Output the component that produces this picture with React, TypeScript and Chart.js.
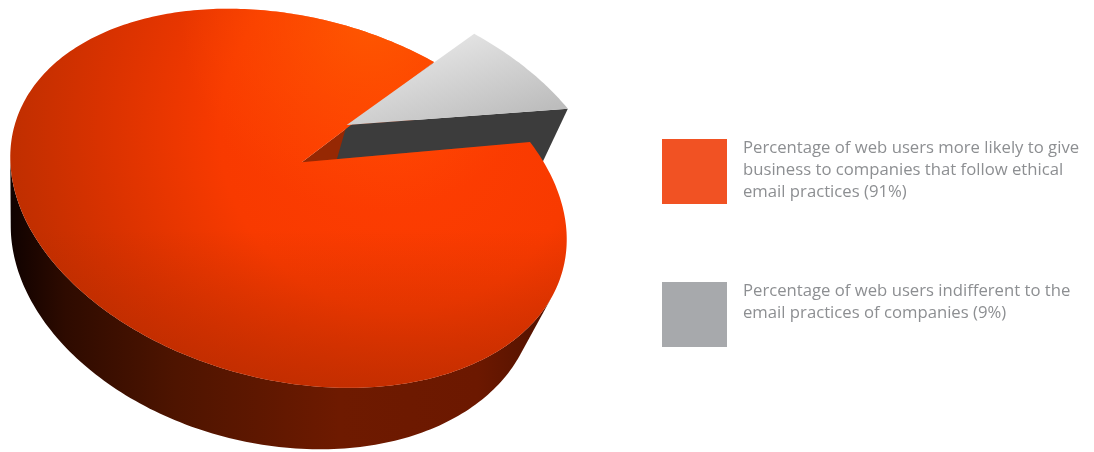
import React, { useEffect, useRef } from "react";
import { Chart, registerables } from "chart.js";

Chart.register(...registerables);

const sliceLabels = [
  ["Percentage of web users more likely to give", "business to companies that follow ethical", "email practices (91%)"],
  ["Percentage of web users indifferent to the", "email practices of companies (9%)"],
];
const sliceValues = [91, 9];
const legendColors = ["#f15223", "#a7a9ac"];
const legendTops = [139, 282];

type Pt = [number, number];

// Camera: the gap between the two slices widens slightly in the projected
// disc. Four rim points at the gap's edges and their opposites fix the plane;
// the vanishing point gives the direction of the vertical edges.
const gapStretch = 1.05;
const rimTargets: Pt[] = [[530, 142], [434, 62], [14, 188], [106, 311]];
const verticalVanish: Pt = [18, 1273];
const discThickness = 0.06;
const pulledThickness = 0.067;
const pulledApex: Pt = [346.7, 125];
const pulledScale = 1.05;
const pulledLeadTurn = 0.02;

function solve(A: number[][], b: number[]): number[] {
  const n = b.length;
  const M = A.map((r, i) => [...r, b[i]]);
  for (let c = 0; c < n; c++) {
    let p = c;
    for (let r = c + 1; r < n; r++) if (Math.abs(M[r][c]) > Math.abs(M[p][c])) p = r;
    [M[c], M[p]] = [M[p], M[c]];
    for (let r = 0; r < n; r++) {
      if (r === c) continue;
      const f = M[r][c] / M[c][c];
      for (let k = c; k <= n; k++) M[r][k] -= f * M[c][k];
    }
  }
  return M.map((r, i) => r[n] / r[i]);
}

function buildHomography(): number[] {
  const half = (sliceValues[1] / (sliceValues[0] + sliceValues[1])) * 180 * gapStretch;
  const rimAngles = [half, -half, 180 + half, 180 - half];
  const A: number[][] = [];
  const b: number[] = [];
  rimAngles.forEach((deg, i) => {
    const u = Math.cos((deg * Math.PI) / 180);
    const v = Math.sin((deg * Math.PI) / 180);
    const [x, y] = rimTargets[i];
    A.push([u, v, 1, 0, 0, 0, -u * x, -v * x]);
    b.push(x);
    A.push([0, 0, 0, u, v, 1, -u * y, -v * y]);
    b.push(y);
  });
  return [...solve(A, b), 1];
}

const H = buildHomography();

function project(u: number, v: number, z = 0): Pt {
  const w = H[6] * u + H[7] * v + H[8] + z;
  return [
    (H[0] * u + H[1] * v + H[2] + verticalVanish[0] * z) / w,
    (H[3] * u + H[4] * v + H[5] + verticalVanish[1] * z) / w,
  ];
}

function unproject(x: number, y: number): Pt {
  const s = solve(
    [
      [H[0] - x * H[6], H[1] - x * H[7]],
      [H[3] - y * H[6], H[4] - y * H[7]],
    ],
    [x * H[8] - H[2], y * H[8] - H[5]]
  );
  return [s[0], s[1]];
}

function polygon(ctx: CanvasRenderingContext2D, pts: Pt[]) {
  ctx.beginPath();
  addPoly(ctx, pts);
}

function addPoly(ctx: CanvasRenderingContext2D, pts: Pt[]) {
  pts.forEach((p, i) => (i ? ctx.lineTo(p[0], p[1]) : ctx.moveTo(p[0], p[1])));
  ctx.closePath();
}

function rim(start: number, end: number, ox = 0, oy = 0, scale = 1): Pt[] {
  const out: Pt[] = [];
  const steps = Math.max(2, Math.ceil(((end - start) * 180) / Math.PI));
  for (let i = 0; i <= steps; i++) {
    const a = start + ((end - start) * i) / steps;
    out.push([ox + scale * Math.cos(a), oy + scale * Math.sin(a)]);
  }
  return out;
}

function gradient(g: CanvasGradient, stops: [number, string][]) {
  stops.forEach(([o, c]) => g.addColorStop(o, c));
  return g;
}

function area(p: Pt[]): number {
  let s = 0;
  p.forEach((q, i) => {
    const r = p[(i + 1) % p.length];
    s += q[0] * r[1] - r[0] * q[1];
  });
  return s / 2;
}

// Replaces the flat arcs with a projected, extruded disc. Angles come from the
// arc elements that the pie controller computed.
const pie3d = {
  id: "pie3d",
  beforeDatasetsDraw(chart: Chart) {
    const ctx = chart.ctx;
    const [orange, grey] = chart.getDatasetMeta(0).data as any[];
    const oa = orange.getProps(["startAngle", "endAngle"], true);
    const ga = grey.getProps(["startAngle", "endAngle"], true);
    const [ex, ey] = unproject(pulledApex[0], pulledApex[1]);
    const widen = ((ga.endAngle - ga.startAngle) * (gapStretch - 1)) / 2;

    // outer wall: only the quads facing the viewer, filled as one path
    const rimO = rim(oa.startAngle + widen, oa.endAngle - widen);
    ctx.beginPath();
    for (let i = 0; i < rimO.length - 1; i++) {
      const quad: Pt[] = [
        project(rimO[i][0], rimO[i][1]),
        project(rimO[i + 1][0], rimO[i + 1][1]),
        project(rimO[i + 1][0], rimO[i + 1][1], discThickness),
        project(rimO[i][0], rimO[i][1], discThickness),
      ];
      if (area(quad) < 0) addPoly(ctx, quad);
    }
    ctx.fillStyle = gradient(ctx.createLinearGradient(11, 0, 560, 0), [
      [0, "#100200"],
      [0.1, "#2e0b00"],
      [0.3, "#4e1400"],
      [0.6, "#6e1a00"],
      [0.85, "#6c1800"],
      [1, "#4d1100"],
    ]);
    ctx.fill();

    // cut face of the large slice, seen through the gap
    const last = rimO[rimO.length - 1];
    polygon(ctx, [
      project(0, 0),
      project(last[0], last[1]),
      project(last[0], last[1], pulledThickness),
      project(0, 0, pulledThickness),
    ]);
    ctx.fillStyle = "#962803";
    ctx.fill();

    // front face of the pulled-out slice
    const rimG = rim(ga.startAngle - widen + pulledLeadTurn, ga.endAngle + widen, ex, ey, pulledScale);
    const endG = rimG[rimG.length - 1];
    polygon(ctx, [
      project(ex, ey),
      project(endG[0], endG[1]),
      project(endG[0], endG[1], pulledThickness),
      project(ex, ey, pulledThickness),
    ]);
    ctx.fillStyle = "#3c3c3c";
    ctx.fill();

    // top of the large slice
    ctx.save();
    polygon(ctx, [project(0, 0), ...rimO.map((p) => project(p[0], p[1]))]);
    ctx.clip();
    ctx.fillStyle = gradient(ctx.createRadialGradient(400, 130, 0, 400, 130, 400), [
      [0, "#ff3e02"],
      [0.45, "#f83a00"],
      [0.75, "#d93200"],
      [1, "#bd2e00"],
    ]);
    ctx.fillRect(0, 0, 600, 452);
    ctx.fillStyle = gradient(ctx.createLinearGradient(0, 230, 0, 392), [
      [0, "rgba(170,40,0,0)"],
      [1, "rgba(170,40,0,0.55)"],
    ]);
    ctx.fillRect(0, 0, 600, 452);
    ctx.fillStyle = gradient(ctx.createRadialGradient(370, 20, 0, 370, 20, 190), [
      [0, "rgba(255,90,0,0.9)"],
      [1, "rgba(255,80,0,0)"],
    ]);
    ctx.fillRect(0, 0, 600, 452);
    ctx.restore();

    // top of the pulled-out slice
    polygon(ctx, [project(ex, ey), ...rimG.map((p) => project(p[0], p[1]))]);
    ctx.fillStyle = gradient(ctx.createLinearGradient(470, 35, 500, 125), [
      [0, "#e2e2e2"],
      [1, "#bdbdbd"],
    ]);
    ctx.fill();
    return false;
  },
};

export default function App() {
  const ref = useRef<HTMLCanvasElement>(null);
  useEffect(() => {
    const chart = new Chart(ref.current!, {
      type: "pie",
      data: {
        labels: sliceLabels.map((l) => l.join(" ")),
        datasets: [{ data: sliceValues, backgroundColor: legendColors }],
      },
      options: {
        responsive: false,
        animation: false,
        rotation: 106.2,
        plugins: { legend: { display: false }, tooltip: { enabled: false } },
      },
      plugins: [pie3d],
    } as any);
    return () => chart.destroy();
  }, []);

  return (
    <div style={{ position: "absolute", left: 0, top: 0, width: 1094, height: 452, overflow: "hidden", background: "#fff" }}>
      <canvas ref={ref} width={1094} height={452} style={{ display: "block" }} />
      {sliceLabels.map((lines, i) => (
        <React.Fragment key={i}>
          <div style={{ position: "absolute", left: 662, top: legendTops[i], width: 65, height: 65, background: legendColors[i] }} />
          <div
            style={{
              position: "absolute",
              left: 743,
              top: legendTops[i] - 3,
              font: '16.7px/22px "Open Sans", sans-serif',
              color: "#8d8f92",
              whiteSpace: "nowrap",
            }}
          >
            {lines.map((t) => (
              <div key={t}>{t}</div>
            ))}
          </div>
        </React.Fragment>
      ))}
    </div>
  );
}
